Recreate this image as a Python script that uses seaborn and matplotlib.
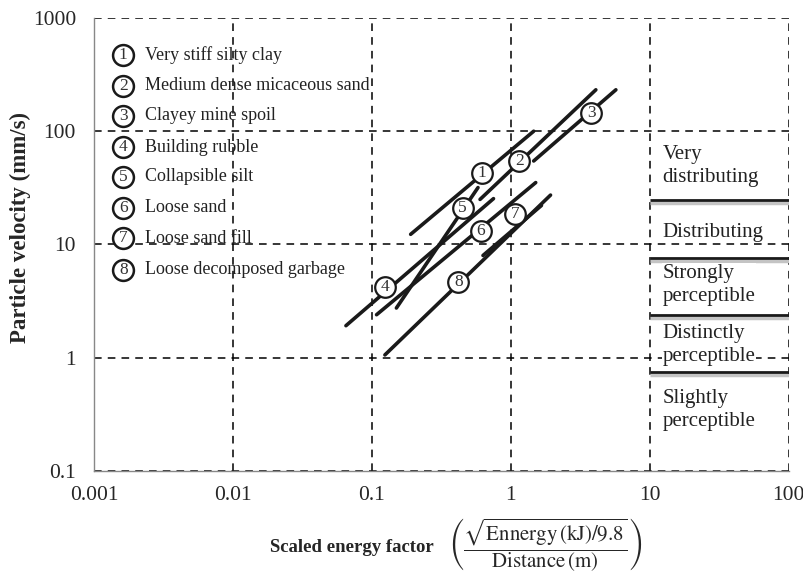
import numpy as np
import pandas as pd
import matplotlib
matplotlib.use("Agg")
import matplotlib.pyplot as plt
import seaborn as sns

# soil types (legend) and their attenuation lines
soil_names = ["Very stiff silty clay", "Medium dense micaceous sand", "Clayey mine spoil",
              "Building rubble", "Collapsible silt", "Loose sand", "Loose sand fill",
              "Loose decomposed garbage"]
line_x0 = [0.19, 0.60, 1.46, 0.065, 0.15, 0.108, 0.63, 0.124]
line_x1 = [1.46, 4.09, 5.7, 0.75, 0.58, 1.51, 1.66, 1.93]
line_y0 = [12.3, 25.0, 54.6, 1.92, 2.75, 2.4, 8.0, 1.06]
line_y1 = [100.0, 232.0, 232.0, 25.4, 31.8, 35.2, 22.1, 27.3]
label_x = [0.615, 1.15, 3.8, 0.124, 0.45, 0.608, 1.07, 0.418]
label_y = [42.5, 54.6, 146.0, 4.22, 21.1, 13.1, 18.4, 4.67]

# human response zones (right side)
zone_labels = ["Very\ndistributing", "Distributing", "Strongly\nperceptible",
               "Distinctly\nperceptible", "Slightly\nperceptible"]
zone_text_y = [49.4, 12.8, 4.38, 1.30, 0.347]
zone_bounds = [24.5, 7.67, 2.4, 0.75]

sns.set_style("white")
plt.rcParams['font.family'] = ['Liberation Serif', 'DejaVu Serif']
plt.rcParams['mathtext.fontset'] = 'stix'

fig = plt.figure(figsize=(8.04, 5.78), dpi=100)
ax = fig.add_axes([0.117, 0.185, 0.864, 0.784])

ink = "#1a1a1a"
for i in range(len(soil_names)):
    seg = pd.DataFrame({"x": [line_x0[i], line_x1[i]], "y": [line_y0[i], line_y1[i]]})
    sns.lineplot(data=seg, x="x", y="y", color=ink, lw=2.6, ax=ax, zorder=3)

lab = pd.DataFrame({"x": label_x, "y": label_y})
sns.scatterplot(data=lab, x="x", y="y", s=220, color="white", edgecolor=ink,
                linewidth=1.6, ax=ax, zorder=4)
for i in range(len(soil_names)):
    ax.text(label_x[i], label_y[i], str(i + 1), ha="center", va="center",
            fontsize=12.5, color="#333333", zorder=5)

ax.set_xscale("log")
ax.set_yscale("log")
ax.set_xlim(0.001, 100)
ax.set_ylim(0.1, 1000)
ax.set_xticks([0.001, 0.01, 0.1, 1, 10, 100])
ax.set_xticklabels(["0.001", "0.01", "0.1", "1", "10", "100"])
ax.set_yticks([0.1, 1, 10, 100, 1000])
ax.set_yticklabels(["0.1", "1", "10", "100", "1000"])
ax.tick_params(axis="both", which="major", labelsize=15.5, direction="out", length=5,
               color="#888888")
ax.tick_params(axis="y", which="major", pad=8)
ax.tick_params(axis="x", which="major", pad=6)
ax.tick_params(axis="both", which="minor", direction="in", length=4, color="#999999")
ax.grid(True, which="major", color="black", linestyle=(0, (5, 4)), lw=1.1)
ax.set_xlabel("")
ax.set_ylabel("")
for s in ["top", "right"]:
    ax.spines[s].set_visible(False)
for s in ["left", "bottom"]:
    ax.spines[s].set_color("#888888")
    ax.spines[s].set_linewidth(1.0)

# legend block
leg_y = [0.918, 0.850, 0.784, 0.715, 0.649, 0.581, 0.514, 0.444]
for i, name in enumerate(soil_names):
    ax.plot([0.042], [leg_y[i]], marker="o", ms=15, mfc="white", mec=ink, mew=1.8,
            transform=ax.transAxes, zorder=4, clip_on=False)
    ax.text(0.042, leg_y[i], str(i + 1), transform=ax.transAxes, ha="center",
            va="center", fontsize=12.5, color="#333333", zorder=5)
    ax.text(0.073, leg_y[i], name, transform=ax.transAxes, ha="left", va="center",
            fontsize=13, color="#222222", zorder=5)

# response zones
for yb in zone_bounds:
    ax.hlines(yb * 0.94, 10, 100, color="#c4c4c4", lw=2.5, zorder=2)
    ax.hlines(yb, 10, 100, color=ink, lw=2, zorder=3)
for t, yt in zip(zone_labels, zone_text_y):
    ax.text(12.3, yt, t, ha="left", va="center", fontsize=15, color="#222222",
            linespacing=1.3, zorder=4,
            bbox=dict(facecolor="white", edgecolor="none", pad=0.5))

fig.text(0.025, 0.606, "Particle velocity (mm/s)", rotation=90, ha="center",
         va="center", fontsize=16.5, fontweight="bold")
fig.text(0.438, 0.052, "Scaled energy factor", ha="center", va="center",
         fontsize=13.5, fontweight="bold")
fig.text(0.678, 0.057,
         r"$\left(\dfrac{\sqrt{\mathrm{Ennergy\,(kJ)}/9.8}}{\mathrm{Distance\,(m)}}\right)$",
         ha="center", va="center", fontsize=15)

fig.savefig("out.png", dpi=100)
